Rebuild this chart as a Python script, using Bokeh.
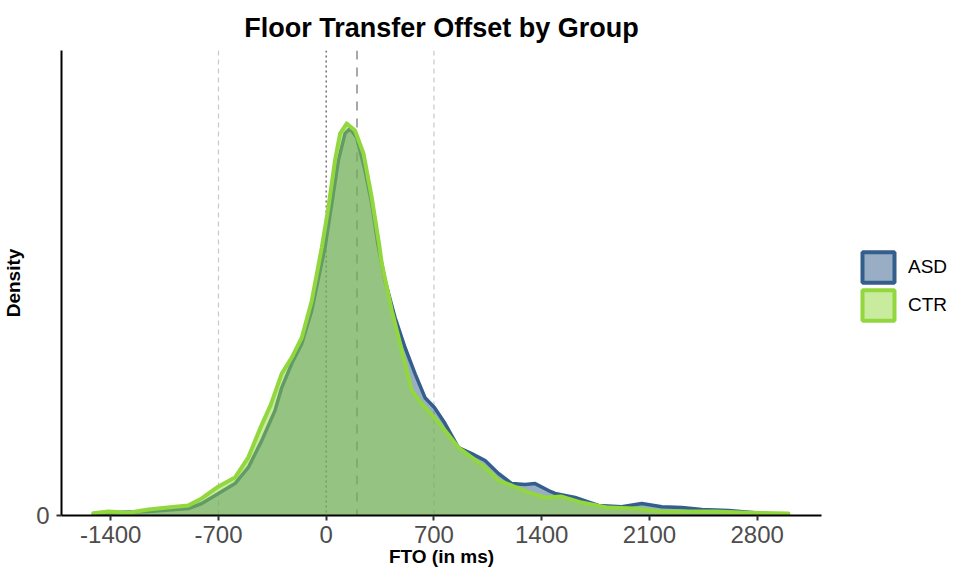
from bokeh.plotting import figure
from bokeh.models import Range1d, FixedTicker, Span, Legend, LegendItem
from bokeh.embed import file_html
from bokeh.resources import INLINE

# ---------------- data ----------------
groups = ["ASD", "CTR"]

# kernel density estimates, density in units of 1e-4 per ms
asd_fto = [-1513, -1415, -1155, -895, -809, -700, -593, -506, -419, -333, -289, -224,
           -159, -94, -29, -8, 36, 79, 122, 155, 198, 252, 296, 335, 382, 447, 512,
           577, 642, 703, 772, 859, 945, 1032, 1119, 1205, 1292, 1357, 1444, 1487,
           1617, 1769, 1920, 2050, 2180, 2310, 2440, 2613, 2786, 2870]
asd_density = [0.06, 0.09, 0.13, 0.22, 0.38, 0.70, 1.01, 1.52, 2.37, 3.32, 4.05, 4.81,
               5.44, 6.49, 8.01, 8.48, 9.87, 11.24, 12.09, 12.25, 11.96, 10.92, 9.87, 8.61,
               7.44, 6.27, 5.32, 4.49, 3.73, 3.42, 2.91, 2.15, 1.96, 1.74, 1.33, 1.01,
               0.98, 1.01, 0.79, 0.70, 0.57, 0.32, 0.28, 0.38, 0.28, 0.25, 0.19, 0.16,
               0.09, 0.06]

ctr_fto = [-1513, -1415, -1285, -1155, -982, -895, -809, -700, -593, -506, -430, -360,
           -289, -224, -159, -94, -29, 14, 57, 90, 133, 187, 242, 296, 343, 361, 426,
           491, 556, 621, 703, 772, 859, 945, 1032, 1119, 1205, 1314, 1422, 1530, 1660,
           1833, 2007, 2180, 2353, 2526, 2743, 3003]
ctr_density = [0.07, 0.13, 0.09, 0.19, 0.28, 0.32, 0.54, 0.92, 1.20, 1.84, 2.75, 3.51,
               4.49, 5.00, 5.63, 6.80, 8.48, 9.75, 11.24, 12.09, 12.41, 12.19, 11.46, 10.06,
               8.61, 7.98, 6.49, 5.22, 3.96, 3.54, 3.10, 2.69, 2.15, 1.84, 1.52, 1.11,
               0.95, 0.73, 0.57, 0.60, 0.41, 0.25, 0.22, 0.13, 0.13, 0.13, 0.09, 0.06]

density_unit = 1e-4
density_top = 14.72

x_ticks = [-1400, -700, 0, 700, 1400, 2100, 2800]
x_limits = [-1720, 3218]

# reference lines: -700 / 700 window, 0, median offset
ref_lines = [-700, 0, 200, 700]
ref_styles = ["light", "zero", "median", "light"]

colors = {"ASD": "#345E8C", "CTR": "#92D73E"}

# ---------------- figure ----------------
FONT = "Liberation Sans"

p = figure(frame_width=760, frame_height=465, output_backend="svg", toolbar_location=None,
           x_range=Range1d(*x_limits),
           y_range=Range1d(0, density_top * density_unit),
           min_border_left=52, min_border_right=128, min_border_top=50,
           min_border_bottom=0)

p.title.text = "Floor Transfer Offset by Group"
p.title.align = "center"
p.title.vertical_align = "top"
p.title.text_font = FONT
p.title.text_font_size = "27px"
p.title.text_font_style = "bold"
p.title.text_color = "black"
p.title.standoff = 11

p.xgrid.visible = False
p.ygrid.visible = False
p.outline_line_color = None
p.background_fill_color = "white"
p.border_fill_color = "white"

# reference lines under the densities
line_style = {
    "light": dict(line_color="#C8C8C8", line_width=1.2, line_dash="5 4"),
    "zero": dict(line_color="#707070", line_width=1.5, line_dash="2 3"),
    "median": dict(line_color="#A8A8A8", line_width=2, line_dash="9 8"),
}
for xv, st in zip(ref_lines, ref_styles):
    p.add_layout(Span(location=xv, dimension="height", level="underlay", **line_style[st]))

series = {"ASD": (asd_fto, asd_density), "CTR": (ctr_fto, ctr_density)}
legend_renderers = []
for g in groups:
    xs, ds = series[g]
    ys = [d * density_unit for d in ds]
    p.varea(x=xs, y1=[0] * len(xs), y2=ys, fill_color=colors[g], fill_alpha=0.5)
    p.line(x=xs, y=ys, line_color=colors[g], line_width=4 if g == "CTR" else 3.5,
           line_join="round", line_cap="round")
    # legend key (no visible data)
    q = p.quad(left=[float("nan")], right=[float("nan")], top=[float("nan")],
               bottom=[float("nan")], fill_color=colors[g], fill_alpha=0.5,
               line_color=colors[g], line_width=4)
    legend_renderers.append(q)

legend = Legend(items=[LegendItem(label=g, renderers=[r]) for g, r in zip(groups, legend_renderers)],
                location=(37, 191), glyph_width=40, glyph_height=38, spacing=0,
                label_standoff=10, padding=0, margin=0,
                border_line_color=None, background_fill_alpha=0,
                label_text_font=FONT, label_text_font_size="19px", label_text_color="black")
p.add_layout(legend, "right")

# axes
for ax in (p.xaxis[0], p.yaxis[0]):
    ax.axis_line_color = "black"
    ax.axis_line_width = 2
    ax.major_tick_line_color = "#333333"
    ax.major_tick_line_width = 2
    ax.major_tick_out = 5
    ax.major_tick_in = 0
    ax.minor_tick_line_color = None
    ax.major_label_text_font = FONT
    ax.major_label_text_font_size = "24px"
    ax.major_label_text_color = "#4D4D4D"
    ax.axis_label_text_font = FONT
    ax.axis_label_text_font_size = "19px"
    ax.axis_label_text_font_style = "bold"
    ax.axis_label_text_color = "black"

p.xaxis.ticker = FixedTicker(ticks=x_ticks)
p.xaxis.major_label_overrides = {v: str(v) for v in x_ticks}
p.xaxis.axis_label = "FTO (in ms)"
p.xaxis.major_label_standoff = 5
p.xaxis.axis_label_standoff = 0

p.yaxis.ticker = FixedTicker(ticks=[0])
p.yaxis.major_label_overrides = {0: "0"}
p.yaxis.axis_label = "Density"
p.yaxis.major_label_standoff = 7
p.yaxis.axis_label_standoff = 9

open("out.html", "w").write(file_html(p, INLINE))
